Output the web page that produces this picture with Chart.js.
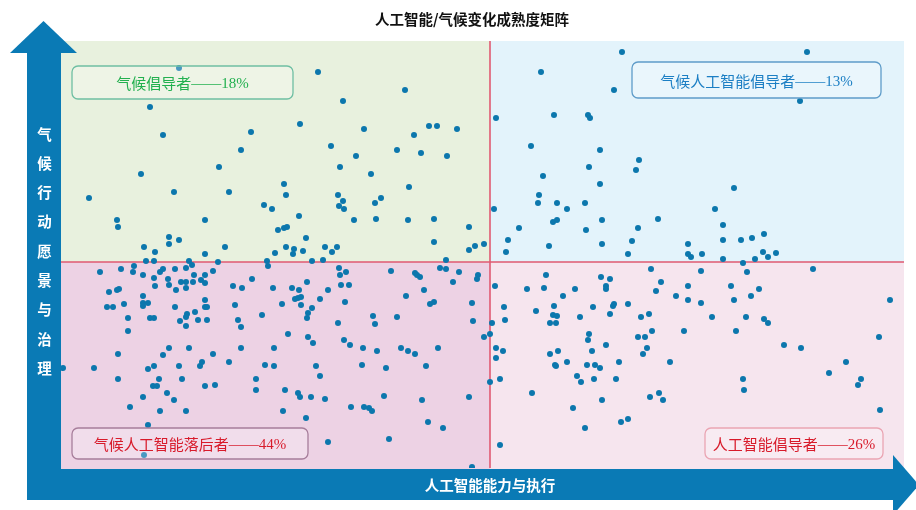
<!DOCTYPE html>
<html lang="zh">
<head>
<meta charset="utf-8">
<script src="https://cdn.jsdelivr.net/npm/chart.js@4.4.1/dist/chart.umd.min.js"></script>
<style>
  html, body { margin: 0; padding: 0; background: #fff; }
  #wrap { width: 916px; height: 510px; position: relative; }
</style>
</head>
<body>
<div id="wrap"><canvas id="matrix"></canvas></div>
<script>
// -------------------- DATA --------------------
// x = 人工智能能力与执行, y = 气候行动愿景与治理 (0 = quadrant split)
const chartTitle = '人工智能/气候变化成熟度矩阵';
const xAxisTitle = '人工智能能力与执行';
const yAxisTitle = '气候行动愿景与治理';

const quadrantNames = ['气候倡导者', '气候人工智能倡导者', '气候人工智能落后者', '人工智能倡导者'];
const quadrantShares = [18, 13, 44, 26]; // %

const xRange = [-42.9, 41.4];
const yRange = [-20.6, 22.1];

// top-left: 气候倡导者
const climateAdvocates = [
  [-31.1,19.4],[-34.0,15.5],[-32.7,12.7],[-23.9,13.0],[-24.9,11.2],[-34.9,8.8],[-27.1,9.5],[-31.6,7.0],[-26.1,7.0],[-40.1,6.4],
  [-22.6,5.7],[-21.8,5.3],[-37.3,4.2],[-37.2,3.5],[-28.5,4.2],[-32.1,2.5],[-32.1,1.8],[-31.1,2.2],[-34.6,1.5],[-33.5,1.0],
  [-26.5,1.5],[-28.5,0.8],
  [-17.2,19.0],[-8.5,17.2],[-14.7,16.1],[-19.0,13.8],[-12.6,13.3],[-6.1,13.6],[-5.3,13.6],[-3.3,13.3],[-7.6,12.7],[-15.9,11.6],
  [-9.3,11.2],[-6.9,10.9],[-4.3,10.6],[-13.4,10.6],[-15.0,9.5],[-11.9,8.8],[-20.6,7.8],[-8.1,7.5],[-20.4,6.7],[-15.2,6.7],
  [-14.7,6.1],[-15.1,5.6],[-14.6,5.3],[-10.9,6.4],[-11.5,5.9],[-19.1,4.6],[-13.6,4.2],[-11.4,4.3],[-8.2,4.2],[-5.6,4.3],
  [-2.1,3.5],[-21.2,3.2],[-20.6,3.4],[-20.3,3.5],[-18.4,2.4],[-20.4,1.5],[-19.6,1.3],[-18.7,1.1],[-21.5,0.9],[-16.5,1.5],
  [-15.3,1.5],[-15.8,1.0],[-19.7,0.8],[-5.6,2.0],[-2.1,1.2],[-1.5,1.6],[-0.6,1.8],
  [-34.4,0.1],[-33.6,0.1],[-30.1,0.1],[-27.2,0.0],[-22.3,0.1],[-17.8,0.1],[-16.7,0.2],[-4.4,0.2]
];

// top-right: 气候人工智能倡导者
const climateAiAdvocates = [
  [13.2,21.0],[5.1,19.0],[12.4,17.2],[0.6,14.4],[6.4,14.7],[9.8,14.7],[10.0,14.4],[4.1,11.6],[11.0,11.2],[14.9,10.2],
  [14.6,9.2],[9.9,9.5],[5.3,8.6],[11.0,7.8],[4.9,6.7],[4.8,5.9],[6.7,5.9],[7.7,5.3],[9.5,5.9],[0.4,5.3],
  [6.3,4.0],[6.7,4.2],[11.2,4.2],[16.8,4.3],[9.6,3.2],[14.8,3.4],[2.9,3.4],[1.8,2.2],[5.9,1.6],[11.2,1.8],
  [14.2,2.1],[19.8,1.8],[1.6,1.0],[13.8,0.8],[19.8,0.8],[21.2,0.8],
  [31.7,21.0],[31.0,16.1],[24.4,7.4],[22.5,5.3],[23.3,3.7],[23.3,2.2],[25.1,2.2],[26.2,2.4],[27.4,2.8],[27.3,1.0],
  [28.6,0.9],[23.3,0.3],[26.5,0.3],[27.8,0.5],[20.1,0.5]
];

// bottom-left: 气候人工智能落后者
const climateAiLaggards = [
  [-35.6,-0.4],[-39.0,-1.0],[-36.9,-0.7],[-35.7,-1.0],[-34.7,-1.3],[-33.6,-1.6],[-33.0,-1.0],[-32.7,-0.7],[-31.5,-0.7],[-30.4,-0.6],
  [-29.8,-0.3],[-29.6,-1.3],[-28.5,-1.3],[-27.7,-0.9],[-33.5,-2.4],[-32.2,-1.7],[-32.1,-2.3],[-31.4,-2.8],[-30.9,-2.0],[-30.4,-2.0],
  [-30.4,-2.6],[-29.7,-2.0],[-28.9,-1.8],[-28.5,-2.1],[-25.7,-2.4],[-24.8,-2.6],[-23.8,-1.7],[-22.2,-0.4],[-21.7,-2.6],[-38.1,-3.0],
  [-37.3,-2.8],[-37.1,-2.7],[-34.7,-3.4],[-38.3,-4.5],[-37.7,-4.5],[-36.6,-4.2],[-34.7,-4.1],[-34.7,-4.4],[-34.2,-4.1],[-31.5,-4.5],
  [-28.5,-3.8],[-28.5,-4.5],[-28.3,-4.5],[-25.5,-4.3],[-36.2,-5.6],[-36.2,-6.9],[-34.0,-5.6],[-33.6,-5.6],[-31.0,-5.9],[-30.3,-5.2],
  [-30.4,-5.5],[-30.4,-6.4],[-29.5,-5.0],[-29.2,-5.8],[-28.3,-5.8],[-25.2,-5.8],[-24.9,-6.5],[-22.8,-5.3],[-37.2,-9.2],[-32.1,-8.6],
  [-32.7,-9.3],[-30.1,-8.6],[-27.7,-9.2],[-24.9,-8.6],[-21.6,-8.6],[-42.7,-10.6],[-39.6,-10.6],[-34.2,-10.7],[-33.6,-10.4],[-31.1,-10.4],
  [-29.0,-10.4],[-28.8,-10.0],[-26.1,-10.0],[-22.5,-10.3],[-21.6,-10.4],[-37.2,-11.7],[-33.1,-11.7],[-33.7,-12.4],[-33.3,-12.4],[-30.8,-11.7],
  [-28.5,-12.4],[-27.5,-12.3],[-23.4,-11.7],[-23.4,-12.8],[-34.7,-13.5],[-32.3,-13.1],[-31.6,-13.8],[-36.0,-14.5],[-33.0,-14.9],[-30.4,-14.9],
  [-34.2,-16.3],[-34.6,-19.3],
  [-15.1,-0.6],[-14.4,-1.0],[-15.0,-1.3],[-9.9,-0.9],[-7.5,-1.1],[-7.3,-1.3],[-7.0,-1.5],[-5.0,-0.6],[-4.4,-0.7],[-3.1,-1.0],
  [-1.2,-1.3],[-1.3,-1.7],[-19.8,-2.6],[-19.1,-2.8],[-18.3,-2.0],[-14.9,-2.3],[-14.1,-2.3],[-16.2,-2.8],[-3.7,-2.0],[-6.6,-2.8],
  [-19.5,-3.7],[-19.2,-3.6],[-18.9,-3.5],[-20.8,-4.2],[-18.9,-4.3],[-17.0,-3.7],[-14.5,-4.0],[-8.4,-3.4],[-6.0,-4.2],[-5.6,-4.0],
  [-1.8,-4.1],[-17.8,-4.6],[-18.2,-5.1],[-18.3,-5.6],[-15.2,-6.1],[-11.7,-5.4],[-11.5,-6.2],[-9.3,-5.5],[-1.7,-5.9],[-20.2,-7.2],
  [-18.2,-7.5],[-17.7,-8.1],[-14.6,-7.8],[-14.0,-8.3],[-12.7,-8.6],[-11.3,-8.9],[-8.9,-8.6],[-8.2,-8.9],[-7.5,-9.2],[-5.2,-8.6],
  [-0.6,-7.5],[-17.4,-10.4],[-17.0,-11.4],[-12.8,-10.3],[-10.4,-10.6],[-6.4,-10.4],[-20.5,-12.8],[-19.2,-13.1],[-19.0,-13.5],[-17.9,-13.5],
  [-16.5,-13.7],[-10.6,-13.4],[-6.8,-13.8],[-2.1,-13.5],[-20.7,-14.9],[-18.4,-15.6],[-13.9,-14.5],[-12.6,-14.5],[-12.1,-14.6],[-11.8,-14.9],
  [-6.2,-16.0],[-4.7,-16.6],[-16.2,-18.0],[-10.1,-17.7],[-1.8,-20.5]
];

// bottom-right: 人工智能倡导者
const aiAdvocates = [
  [0.2,-6.1],[0.0,-7.2],[0.0,-12.0],[25.3,-0.1],
  [0.5,-2.4],[1.4,-4.5],[1.5,-5.8],[0.6,-8.6],[1.3,-8.9],[0.6,-9.6],[1.0,-11.7],[1.0,-18.3],[5.6,-1.3],[3.7,-2.7],
  [5.4,-2.6],[7.3,-3.4],[8.5,-2.7],[11.1,-1.5],[12.0,-1.7],[11.6,-2.4],[11.6,-2.7],[16.1,-0.7],[17.1,-2.0],[16.6,-2.9],
  [18.6,-3.4],[19.8,-2.4],[21.1,-0.9],[19.8,-3.8],[21.1,-4.1],[4.6,-4.9],[6.4,-4.4],[6.3,-5.3],[6.7,-5.4],[6.0,-6.1],
  [6.6,-6.1],[9.0,-5.5],[10.3,-4.5],[12.3,-4.4],[12.4,-4.2],[12.0,-5.2],[13.8,-4.2],[15.1,-5.5],[15.9,-5.2],[16.2,-6.9],
  [19.4,-6.9],[9.9,-7.2],[9.8,-7.8],[14.8,-7.5],[15.5,-7.5],[10.2,-8.9],[11.6,-8.3],[15.7,-8.6],[15.3,-9.2],[6.0,-9.2],
  [6.8,-8.9],[7.7,-10.0],[6.5,-10.3],[6.6,-10.4],[9.7,-10.3],[10.5,-10.3],[11.0,-10.6],[12.9,-10.0],[18.0,-10.0],[8.7,-11.4],
  [9.1,-12.0],[10.4,-11.7],[12.6,-11.7],[4.2,-13.1],[11.2,-13.8],[16.0,-13.5],[16.9,-13.1],[17.3,-13.8],[8.3,-14.6],[13.1,-16.0],
  [13.8,-15.7],[9.5,-16.6],
  [25.7,-1.0],[32.3,-0.7],[24.1,-2.4],[26.9,-2.7],[26.1,-3.4],[24.4,-3.8],[22.2,-5.5],[25.6,-5.5],[27.4,-5.7],[27.8,-6.1],
  [24.6,-6.9],[40.0,-3.8],[29.4,-8.3],[31.1,-8.6],[38.9,-7.5],[35.6,-10.0],[33.9,-11.1],[37.1,-11.7],[36.8,-12.3],[25.3,-11.7],
  [25.4,-12.8],[39.0,-14.8]
];

// -------------------- STYLE --------------------
const pointColor = '#0c77ad';
const arrowColor = '#0a7ab5';
const splitColor = '#e05a72';
const quadrantFill = ['#e8f1de', '#e3f3fb', '#edd2e4', '#f6e5ee'];
const labelText = ['#22b04f', '#1c7fc4', '#d81b2b', '#d81b2b'];
const labelBorder = ['#6fbfa3', '#5f9cc9', '#a77e9b', '#eaa5b3'];
const CJK = '"Noto Sans CJK SC", sans-serif';
const SERIF = '"Liberation Serif", serif';

const toPoints = (arr) => arr.map(([x, y]) => ({ x, y }));

// -------------------- PLUGIN: quadrants, boxes, arrows --------------------
const matrixPlugin = {
  id: 'matrix',
  beforeDatasetsDraw(chart) {
    const { ctx, chartArea: a, scales: { x, y } } = chart;
    const mx = x.getPixelForValue(0), my = y.getPixelForValue(0);
    ctx.save();
    ctx.fillStyle = quadrantFill[0]; ctx.fillRect(a.left, a.top, mx - a.left, my - a.top);
    ctx.fillStyle = quadrantFill[1]; ctx.fillRect(mx, a.top, a.right - mx, my - a.top);
    ctx.fillStyle = quadrantFill[2]; ctx.fillRect(a.left, my, mx - a.left, a.bottom - my + 2);
    ctx.fillStyle = quadrantFill[3]; ctx.fillRect(mx, my, a.right - mx, a.bottom - my + 2);
    ctx.strokeStyle = splitColor;
    ctx.lineWidth = 1.6;
    ctx.beginPath();
    ctx.moveTo(mx, a.top); ctx.lineTo(mx, a.bottom);
    ctx.moveTo(a.left, my); ctx.lineTo(a.right, my);
    ctx.stroke();
    ctx.restore();
  },
  afterDatasetsDraw(chart) {
    const { ctx, chartArea: a } = chart;
    const boxes = [
      { x: a.left + 11, y: a.top + 25, w: 221, h: 33 },
      { x: a.right - 272, y: a.top + 21, w: 249, h: 36 },
      { x: a.left + 11, y: a.bottom - 40, w: 236, h: 31 },
      { x: a.right - 199, y: a.bottom - 40, w: 178, h: 31 }
    ];
    ctx.save();
    boxes.forEach((b, i) => {
      ctx.beginPath();
      ctx.roundRect(b.x, b.y, b.w, b.h, 6);
      ctx.fillStyle = 'rgba(255,255,255,0.25)';
      ctx.fill();
      ctx.strokeStyle = labelBorder[i];
      ctx.lineWidth = 1.3;
      ctx.stroke();

      const head = quadrantNames[i];
      const tail = '——' + quadrantShares[i] + '%';
      ctx.font = '15px ' + CJK;
      const w1 = ctx.measureText(head).width;
      ctx.font = '15px ' + SERIF;
      const w2 = ctx.measureText(tail).width;
      let tx = b.x + b.w / 2 - (w1 + w2) / 2;
      const ty = b.y + b.h / 2 + 1;
      ctx.fillStyle = labelText[i];
      ctx.textBaseline = 'middle';
      ctx.textAlign = 'left';
      ctx.font = '15px ' + CJK;
      ctx.fillText(head, tx, ty);
      ctx.font = '15px ' + SERIF;
      ctx.fillText(tail, tx + w1, ty + 1);
    });
    ctx.restore();
  },
  afterDraw(chart) {
    const { ctx, chartArea: a, scales: { x } } = chart;
    ctx.save();
    ctx.fillStyle = arrowColor;
    // vertical arrow
    const sx = a.left - 34;
    ctx.fillRect(sx, 53, 34, 447);
    ctx.beginPath();
    ctx.moveTo(sx - 17, 53); ctx.lineTo(sx + 16.5, 21); ctx.lineTo(sx + 50, 53);
    ctx.closePath(); ctx.fill();
    // horizontal arrow
    ctx.fillRect(sx, a.bottom + 1, a.right - 10 - sx, 31);
    ctx.beginPath();
    ctx.moveTo(a.right - 11, a.bottom - 13); ctx.lineTo(a.right + 15, a.bottom + 17); ctx.lineTo(a.right - 11, a.bottom + 47);
    ctx.closePath(); ctx.fill();

    // axis titles
    ctx.fillStyle = '#ffffff';
    ctx.font = 'bold 14.5px ' + CJK;
    ctx.textAlign = 'center';
    ctx.textBaseline = 'middle';
    ctx.fillText(xAxisTitle, x.getPixelForValue(0), a.bottom + 17);
    [...yAxisTitle].forEach((ch, i) => ctx.fillText(ch, sx + 17.5, 134 + i * 29.3));

    // title
    ctx.fillStyle = '#111';
    ctx.font = 'bold 14.5px ' + CJK;
    ctx.fillText(chartTitle, 472, 19);
    ctx.restore();
  }
};

// -------------------- CHART --------------------
const groups = [climateAdvocates, climateAiAdvocates, climateAiLaggards, aiAdvocates];

new Chart(document.getElementById('matrix'), {
  type: 'scatter',
  data: {
    datasets: groups.map((g, i) => ({
      label: quadrantNames[i],
      data: toPoints(g),
      backgroundColor: pointColor,
      borderWidth: 0,
      pointRadius: 3,
      pointHoverRadius: 3
    }))
  },
  options: {
    responsive: true,
    maintainAspectRatio: false,
    animation: false,
    layout: { padding: { left: 61, right: 12, top: 41, bottom: 42 } },
    scales: {
      x: { type: 'linear', min: xRange[0], max: xRange[1], display: false },
      y: { type: 'linear', min: yRange[0], max: yRange[1], display: false }
    },
    plugins: {
      legend: { display: false },
      tooltip: { enabled: false }
    }
  },
  plugins: [matrixPlugin]
});
</script>
</body>
</html>
